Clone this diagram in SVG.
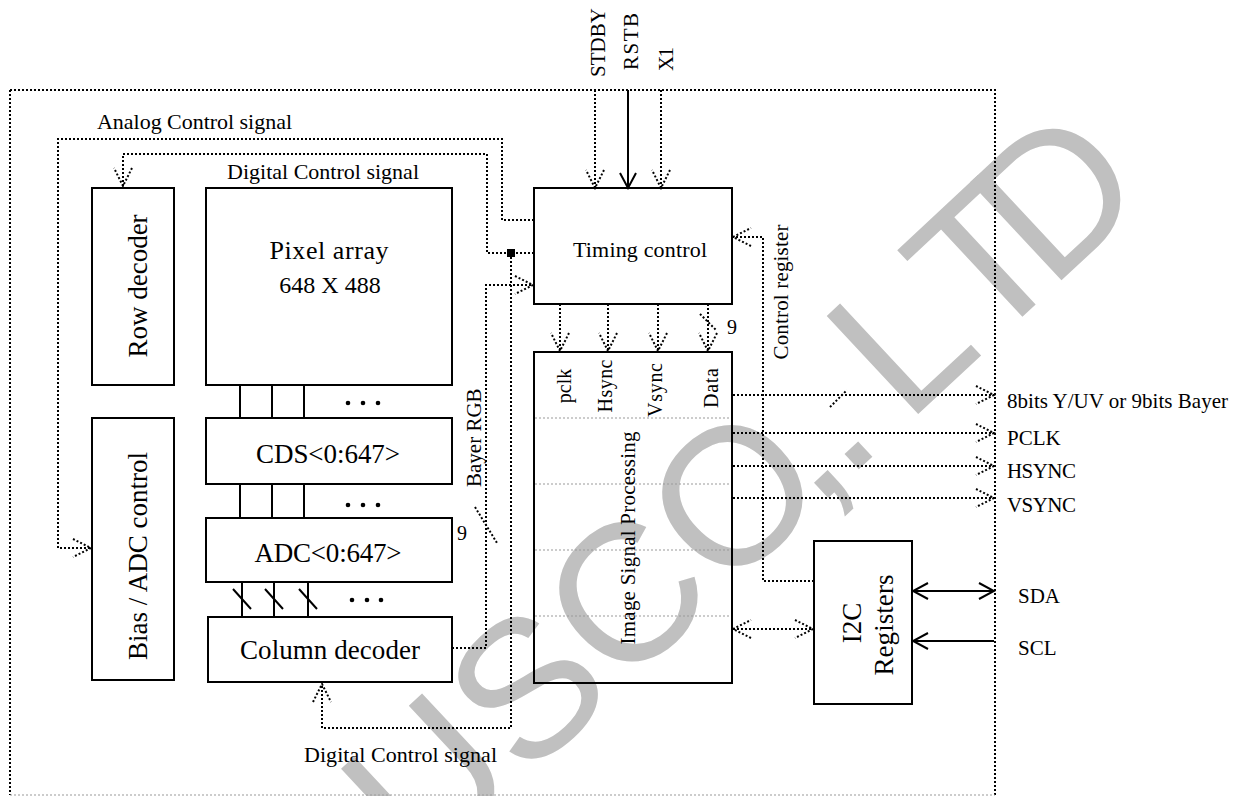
<svg xmlns="http://www.w3.org/2000/svg" width="1260" height="796" viewBox="0 0 1260 796">
<defs>
<style>
.t{font-family:"Liberation Serif","Times New Roman",serif;fill:#000}
.box{fill:none;stroke:#000;stroke-width:2}
.dl{fill:none;stroke:#000;stroke-width:2;stroke-dasharray:2 2}
.gl{fill:none;stroke:#999;stroke-width:1.2;stroke-dasharray:2 2}
.sl{fill:none;stroke:#000;stroke-width:2}
.wm{font-family:"Liberation Sans",Arial,sans-serif;font-size:195px;fill:#c0c0c0}
</style>
<marker id="dv" markerUnits="userSpaceOnUse" viewBox="-20 -12 22 24" refX="0" refY="0" markerWidth="22" markerHeight="24" orient="auto-start-reverse">
<path d="M-18,-9 L0,0 L-18,9" fill="none" stroke="#000" stroke-width="2" stroke-dasharray="2 2"/>
</marker>
<marker id="sv" markerUnits="userSpaceOnUse" viewBox="-17 -10 19 20" refX="0" refY="0" markerWidth="19" markerHeight="20" orient="auto-start-reverse">
<path d="M-15,-8 L0,0 L-15,8" fill="none" stroke="#000" stroke-width="2"/>
</marker>
</defs>
<rect width="1260" height="796" fill="#fff"/>

<g id="watermark">
<text class="wm" transform="translate(906.5,425) rotate(-43)"><tspan x="-663" y="0">U</tspan><tspan x="-522" y="0">S</tspan><tspan x="-392" y="0">C</tspan><tspan x="-251" y="0">O</tspan><tspan x="-125" y="0">,</tspan><tspan x="-83" y="0">.</tspan><tspan x="0" y="0">L</tspan><tspan x="108" y="0">T</tspan><tspan x="196" y="0">D</tspan></text>
</g>

<g id="border">
<path class="dl" d="M10,90 H995 V795"/>
<path class="dl" d="M10,90 V795"/>
<path class="gl" d="M10,795 H995"/>
</g>

<g id="row-decoder">
<rect class="box" x="92" y="188" width="82" height="197"/>
<text class="t" font-size="27" text-anchor="middle" transform="translate(147,286) rotate(-90)">Row decoder</text>
</g>
<g id="bias-adc">
<rect class="box" x="92" y="418" width="82" height="262"/>
<text class="t" font-size="27" text-anchor="middle" textLength="208" transform="translate(147,556) rotate(-90)">Bias / ADC control</text>
</g>
<g id="pixel-array">
<rect class="box" x="206" y="188" width="246" height="197"/>
<text class="t" font-size="26" x="329" y="259" text-anchor="middle" textLength="119">Pixel array</text>
<text class="t" font-size="24" x="330" y="293" text-anchor="middle">648 X 488</text>
</g>
<g id="cds">
<rect class="box" x="206" y="418" width="246" height="66"/>
<text class="t" font-size="27" x="328" y="463" text-anchor="middle" textLength="144">CDS&lt;0:647&gt;</text>
</g>
<g id="adc">
<rect class="box" x="206" y="518" width="246" height="64"/>
<text class="t" font-size="27" x="328" y="562" text-anchor="middle" textLength="147">ADC&lt;0:647&gt;</text>
</g>
<g id="column-decoder">
<rect class="box" x="208" y="617" width="244" height="65"/>
<text class="t" font-size="27" x="330" y="659" text-anchor="middle" textLength="180">Column decoder</text>
</g>
<g id="timing-control">
<rect class="box" x="534" y="188" width="198" height="116"/>
<text class="t" font-size="22" x="640" y="257" text-anchor="middle" textLength="134">Timing control</text>
</g>
<g id="isp">
<rect class="box" x="534" y="352" width="198" height="331"/>
<path class="gl" d="M535,418 H731 M535,484 H731 M535,550 H731 M535,616 H731"/>
<text class="t" font-size="20" text-anchor="middle" transform="translate(571,386) rotate(-90)">pclk</text>
<text class="t" font-size="20" text-anchor="middle" textLength="53" transform="translate(612,386) rotate(-90)">Hsync</text>
<text class="t" font-size="20" text-anchor="middle" textLength="54" transform="translate(662,390) rotate(-90)">Vsync</text>
<text class="t" font-size="20" text-anchor="middle" textLength="40" transform="translate(718,388) rotate(-90)">Data</text>
<text class="t" font-size="21" text-anchor="middle" textLength="213" transform="translate(635,538) rotate(-90)">Image Signal Processing</text>
</g>
<g id="i2c">
<rect class="box" x="814" y="541" width="98" height="163"/>
<text class="t" font-size="27" text-anchor="middle" transform="translate(861,623) rotate(-90)">I2C</text>
<text class="t" font-size="27" text-anchor="middle" textLength="101" transform="translate(893,625) rotate(-90)">Registers</text>
</g>

<g id="labels">
<text class="t" font-size="21" textLength="69" transform="translate(605,77) rotate(-90)">STDBY</text>
<text class="t" font-size="21" textLength="57" transform="translate(638,70) rotate(-90)">RSTB</text>
<text class="t" font-size="21" textLength="24" transform="translate(673,71) rotate(-90)">X1</text>
<text class="t" font-size="22" x="97" y="129" textLength="195">Analog Control signal</text>
<text class="t" font-size="22" x="227" y="179" textLength="192">Digital Control signal</text>
<text class="t" font-size="22" x="304" y="762" textLength="193">Digital Control signal</text>
<text class="t" font-size="21" transform="translate(481,487) rotate(-90)">Bayer RGB</text>
<text class="t" font-size="21" text-anchor="middle" textLength="135" transform="translate(788,292) rotate(-90)">Control register</text>
<text class="t" font-size="20" x="457" y="540">9</text>
<text class="t" font-size="20" x="727" y="334">9</text>
<text class="t" font-size="21" x="1007" y="408" textLength="221">8bits Y/UV or 9bits Bayer</text>
<text class="t" font-size="21" x="1007" y="445">PCLK</text>
<text class="t" font-size="21" x="1007" y="478" textLength="69">HSYNC</text>
<text class="t" font-size="21" x="1007" y="512" textLength="69">VSYNC</text>
<text class="t" font-size="21" x="1018" y="603">SDA</text>
<text class="t" font-size="21" x="1018" y="655">SCL</text>
</g>

<g id="connectors">
<path class="dl" d="M595,90 V188" marker-end="url(#dv)"/>
<path class="sl" d="M628,90 V188" marker-end="url(#sv)"/>
<path class="dl" d="M661,90 V188" marker-end="url(#dv)"/>
<path class="dl" d="M534,220 H502 V139 H58 V548 H91" marker-end="url(#dv)"/>
<path class="dl" d="M534,253 H487 V154 H123 V186" marker-end="url(#dv)"/>
<rect x="507" y="249" width="8" height="8" fill="#000"/>
<path class="dl" d="M511,253 V728 H322 V684" marker-end="url(#dv)"/>
<path class="dl" d="M452,648 H486 V285 H533" marker-end="url(#dv)"/>
<path class="dl" d="M475,507 L497,543"/>
<path class="dl" d="M560,304 V351" marker-end="url(#dv)"/>
<path class="dl" d="M608,304 V351" marker-end="url(#dv)"/>
<path class="dl" d="M658,304 V351" marker-end="url(#dv)"/>
<path class="dl" d="M708,304 V351" marker-end="url(#dv)"/>
<path class="dl" d="M700,314 L716,330"/>
<path class="dl" d="M733,395 H994" marker-end="url(#dv)"/>
<path class="dl" d="M830,407 L847,390"/>
<path class="dl" d="M733,433 H994" marker-end="url(#dv)"/>
<path class="dl" d="M733,466 H994" marker-end="url(#dv)"/>
<path class="dl" d="M733,498 H994" marker-end="url(#dv)"/>
<path class="dl" d="M814,581 H763 V237 H733" marker-end="url(#dv)"/>
<path class="dl" d="M733,629 H813" marker-start="url(#dv)" marker-end="url(#dv)"/>
<path class="sl" d="M913,591 H994" marker-start="url(#sv)" marker-end="url(#sv)"/>
<path class="sl" d="M994,641 H913" marker-end="url(#sv)"/>
<path class="sl" d="M240,385 V418 M272,385 V418 M304,385 V418 M240,484 V518 M272,484 V518 M304,484 V518 M242,582 V617 M274,582 V617 M308,582 V617"/>
<path class="sl" d="M233,589 L251,609 M265,589 L283,609 M299,589 L317,609"/>
<g fill="#000"><circle cx="348" cy="403" r="2.3"/><circle cx="363" cy="403" r="2.3"/><circle cx="378" cy="403" r="2.3"/><circle cx="348" cy="505" r="2.3"/><circle cx="363" cy="505" r="2.3"/><circle cx="378" cy="505" r="2.3"/><circle cx="352" cy="600" r="2.3"/><circle cx="367" cy="600" r="2.3"/><circle cx="381" cy="600" r="2.3"/></g>
</g>
</svg>
